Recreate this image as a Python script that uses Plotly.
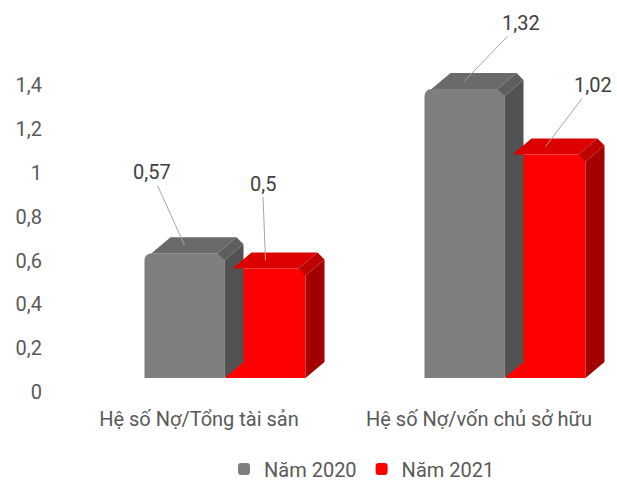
import plotly.graph_objects as go

# ---------------- data ----------------
categories = ["Hệ số Nợ/Tổng tài sản", "Hệ số Nợ/vốn chủ sở hữu"]
series_names = ["Năm 2020", "Năm 2021"]
values_2020 = [0.57, 1.32]
values_2021 = [0.5, 1.02]
labels_2020 = ["0,57", "1,32"]
labels_2021 = ["0,5", "1,02"]
y_tick_vals = [0, 0.2, 0.4, 0.6, 0.8, 1.0, 1.2, 1.4]
y_tick_text = ["0", "0,2", "0,4", "0,6", "0,8", "1", "1,2", "1,4"]

# ---------------- style / geometry ----------------
W, H = 617, 485
ML, MR, MT, MB = 60, 10, 10, 107
PX_X = 280.0   # pixels per category unit
PX_Y = 219.0   # pixels per value unit
plot_w = W - ML - MR
plot_h = H - MT - MB
x_left = (ML - 225) / PX_X
x_range = [x_left, x_left + plot_w / PX_X]
y_range = [0, plot_h / PX_Y]
FONT = "Roboto"
FS = 20

bar_w = 80 / PX_X
offsets = [-0.5 * bar_w - 0.5 / PX_X, 0.5 * bar_w + 0.5 / PX_X]
dx, dy = 19 / PX_X, 16 / PX_Y          # 3D depth
rx, ry = 7 / PX_X, 7 / PX_Y            # chamfer of back edges

styles = [
    dict(front="#7f7f7f", top="#6a6a6a", side="#525252", corner="#5e5e5e"),
    dict(front="#ff0000", top="#dc0000", side="#a30000", corner="#bd0000"),
]
series_values = [values_2020, values_2021]
series_labels = [labels_2020, labels_2021]
label_offsets = [[(-33, -73), (56, -58)], [(-3, -77), (47, -62)]]

fig = go.Figure()

def poly(xs, ys, color):
    fig.add_trace(go.Scatter(x=xs + [xs[0]], y=ys + [ys[0]], mode="lines",
                             fill="toself", fillcolor=color,
                             line=dict(width=0, color=color),
                             hoverinfo="skip", showlegend=False))

for ci in range(len(categories)):
    for si in range(len(series_names)):
        v = series_values[si][ci]
        st = styles[si]
        xc = ci + offsets[si]
        xl, xr = xc - bar_w / 2, xc + bar_w / 2
        # side face
        poly([xr, xr + dx, xr + dx, xr], [0, dy, v + dy - ry, v - ry], st["side"])
        # top face
        poly([xl + rx, xl + rx + dx, xr - rx + dx, xr - rx], [v, v + dy, v + dy, v], st["top"])
        # corner (chamfered back edge)
        poly([xr - rx, xr - rx + dx, xr + dx, xr], [v, v + dy, v + dy - ry, v - ry], st["corner"])
        # front face
        fig.add_trace(go.Bar(x=[xc], y=[v], width=bar_w, name=series_names[si],
                             marker=dict(color=st["front"], cornerradius=7, line=dict(width=0)),
                             showlegend=(ci == 0), legendgroup=series_names[si],
                             hoverinfo="skip"))

for si in range(len(series_names)):
    for ci in range(len(categories)):
        v = series_values[si][ci]
        xc = ci + offsets[si]
        ax, ay = label_offsets[si][ci]
        fig.add_annotation(x=xc, y=v + dy * 0.5, xref="x", yref="y",
                           text=series_labels[si][ci], showarrow=True,
                           arrowhead=0, arrowwidth=1, arrowcolor="#a6a6a6",
                           ax=ax, ay=ay, standoff=0,
                           font=dict(family=FONT, size=FS, color="#404040"))

fig.update_layout(
    width=W, height=H,
    margin=dict(l=ML, r=MR, t=MT, b=MB, autoexpand=False),
    paper_bgcolor="white", plot_bgcolor="white",
    barmode="overlay",
    font=dict(family=FONT, size=FS, color="#595959"),
    showlegend=True,
    legend=dict(orientation="h", x=(362 - ML) / plot_w, xanchor="center",
                yref="container", y=(H - 469) / H, yanchor="middle",
                font=dict(family=FONT, size=FS, color="#595959"),
                traceorder="normal", itemwidth=30),
    xaxis=dict(range=x_range, tickvals=list(range(len(categories))), ticktext=categories,
               showgrid=False, zeroline=False, showline=False, ticks="", automargin=False,
               ticklabelshift=-26, ticklabelstandoff=27,
               tickfont=dict(family=FONT, size=FS, color="#595959")),
    yaxis=dict(range=y_range, tickvals=y_tick_vals, ticktext=y_tick_text,
               showgrid=False, zeroline=False, showline=False, ticks="", automargin=False,
               ticklabelshift=14, ticklabelstandoff=17,
               tickfont=dict(family=FONT, size=FS, color="#595959")),
)

fig.write_html("out.html")
